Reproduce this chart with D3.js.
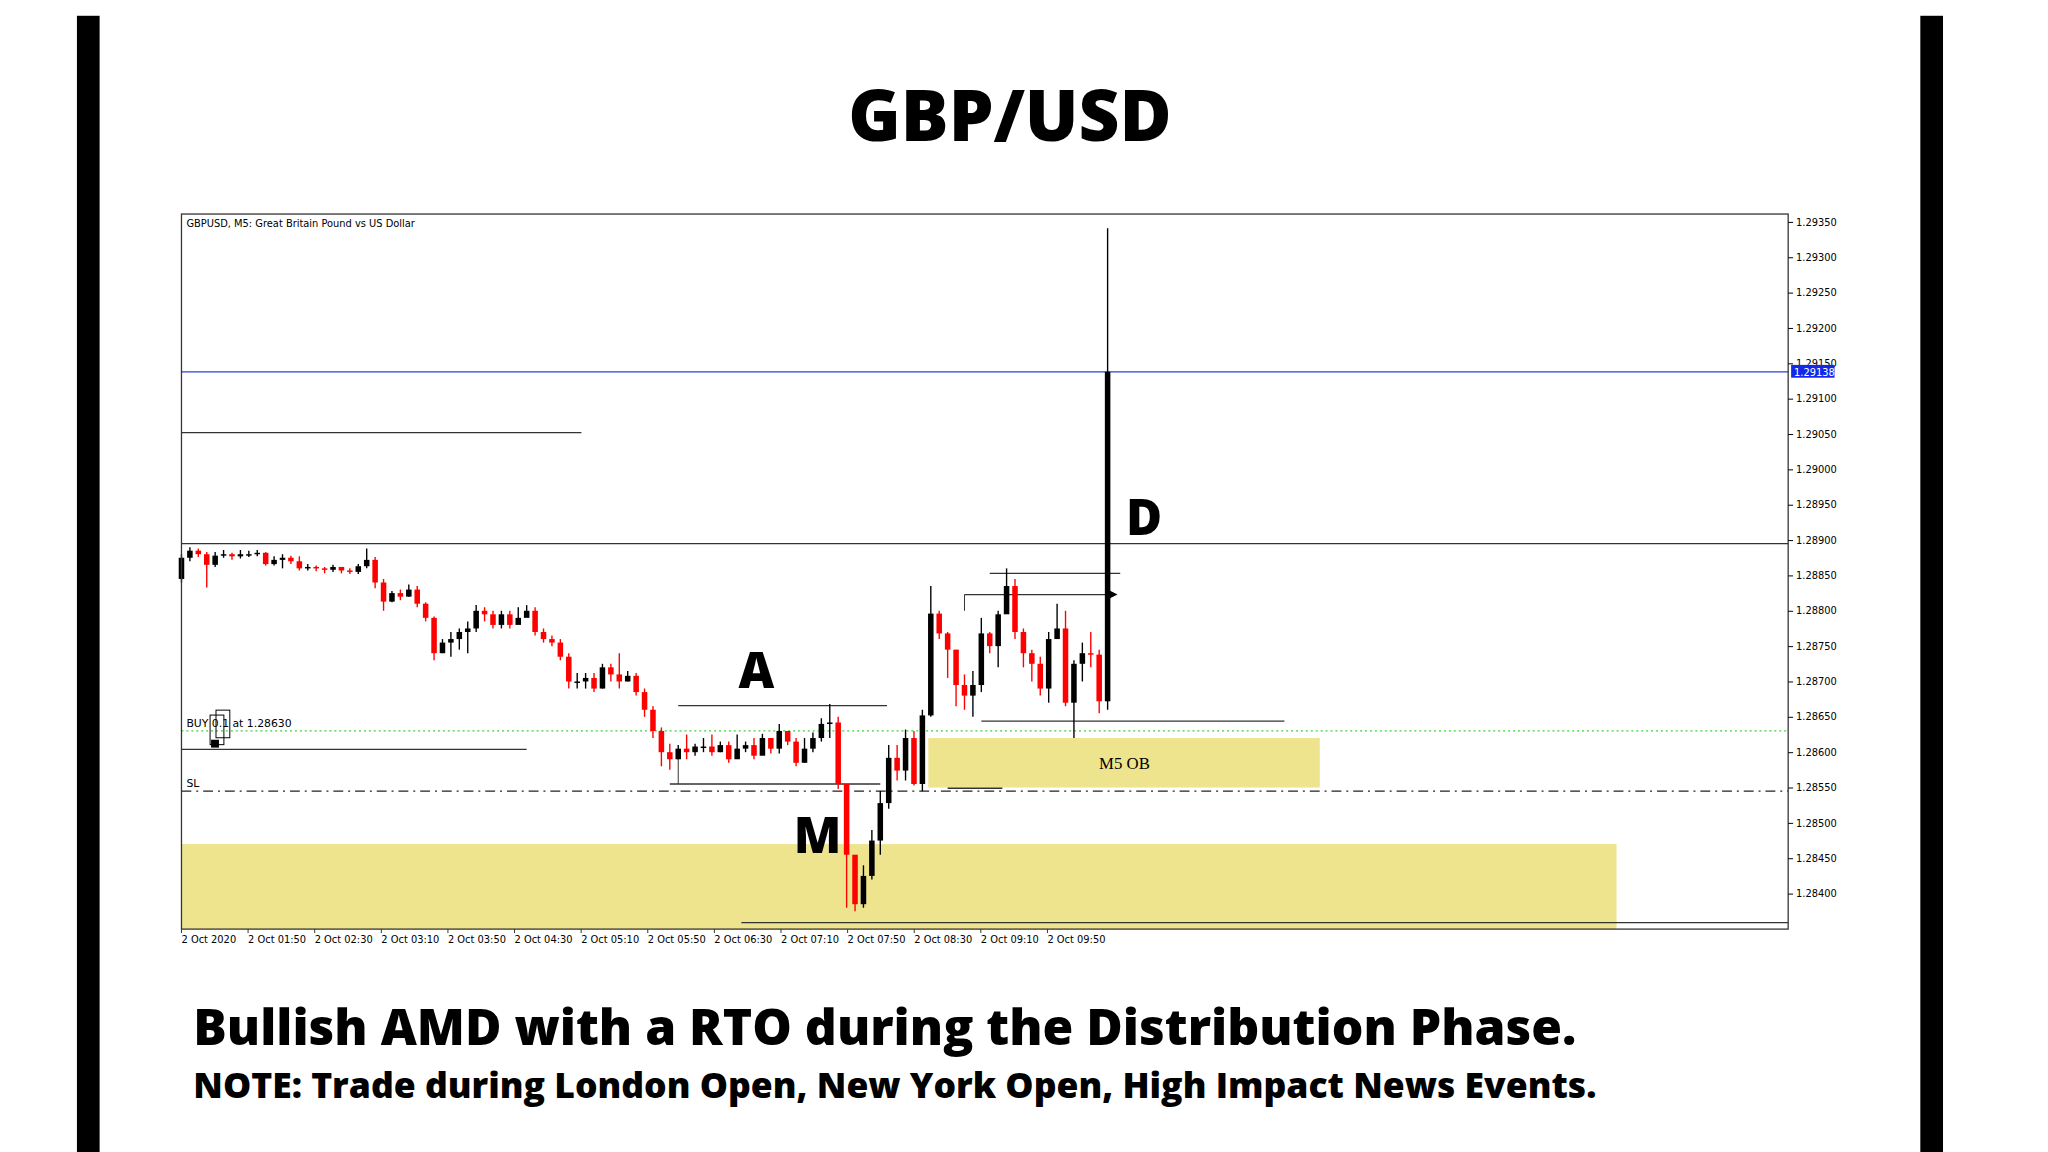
<!DOCTYPE html>
<meta charset="utf-8">
<style>
  body { margin: 0; background: #fff; }
  text { font-family: "Open Sans", sans-serif; }
  .small { font-family: "DejaVu Sans", sans-serif; font-size: 11px; fill: #000; }
</style>
<body>
<script src="https://cdn.jsdelivr.net/npm/d3@7"></script>
<script>
  var width = 2048, height = 1152;

  // prices are given in points above BASE (1.28000), i.e. 888 = 1.28888
  var BASE = 1.28;
  var firstOpen = 845;
  var closes = [875,885,880,865,878,880,877,880,880,882,866,872,875,870,860,862,860,858,862,857,855,863,872,840,813,825,820,830,810,790,
    740,755,760,770,775,800,795,780,795,780,790,800,770,760,755,735,700,700,705,690,720,710,700,708,685,660,630,600,590,605,
    600,608,608,600,610,590,605,610,595,620,605,630,615,585,605,620,640,642,555,455,385,425,475,528,592,574,620,555,652,796,
    768,745,695,680,695,768,750,795,835,770,740,725,690,760,775,670,725,740,738,672,1138];
  var highs = [880,890,888,883,883,886,882,886,885,886,883,877,880,878,877,866,864,862,865,861,860,866,888,876,845,828,830,837,835,812,
    792,760,770,775,785,808,805,800,800,800,805,808,805,775,765,760,740,712,712,712,725,725,740,715,712,690,665,635,612,610,
    625,612,620,625,615,615,625,615,620,626,620,640,630,620,620,628,648,668,650,555,420,440,490,545,610,610,632,630,660,835,
    800,770,745,710,715,790,770,800,860,845,775,745,735,770,810,800,730,755,770,745,1341];
  var lows = [840,870,876,833,862,875,872,874,876,877,864,864,860,866,857,857,856,853,855,853,852,852,860,832,800,812,815,820,805,785,
    730,740,735,745,740,770,785,775,775,775,782,795,765,755,750,730,690,690,690,685,690,700,690,700,680,650,620,580,575,590,
    590,595,600,595,600,585,600,600,590,600,598,598,610,580,585,600,615,620,548,380,375,380,420,455,520,560,560,553,545,650,
    760,705,665,660,650,685,740,720,820,760,720,700,680,670,765,665,620,700,720,655,660];

  var timeLabels = ["2 Oct 2020","2 Oct 01:50","2 Oct 02:30","2 Oct 03:10","2 Oct 03:50","2 Oct 04:30","2 Oct 05:10",
    "2 Oct 05:50","2 Oct 06:30","2 Oct 07:10","2 Oct 07:50","2 Oct 08:30","2 Oct 09:10","2 Oct 09:50"];
  var priceTicks = [1.2935,1.2930,1.2925,1.2920,1.2915,1.2910,1.2905,1.2900,1.2895,1.2890,1.2885,1.2880,1.2875,1.2870,
    1.2865,1.2860,1.2855,1.2850,1.2845,1.2840];

  var candles = closes.map(function(c, i) {
    return { o: i ? closes[i - 1] : firstOpen, c: c, h: highs[i], l: lows[i] };
  });

  var box = { left: 184, right: 1813, top: 217, bottom: 942 };

  var x = d3.scaleLinear().domain([0, candles.length - 1]).range([184, 1123]);
  var tx = d3.scaleLinear().domain([0, timeLabels.length - 1]).range([184, 1062]);
  var y = d3.scaleLinear().domain([1.2935, 1.2840]).range([225, 906]);
  var py = function(v) { return y(BASE + v / 100000); };

  var svg = d3.select("body").append("svg")
      .attr("width", width)
      .attr("height", height)
      .append("g")
      .attr("transform", "scale(0.9863)");

  // side bars
  svg.append("rect").attr("x", 78).attr("y", 16).attr("width", 23).attr("height", 1160).attr("fill", "#000");
  svg.append("rect").attr("x", 1947).attr("y", 16).attr("width", 23).attr("height", 1160).attr("fill", "#000");

  svg.append("text").attr("x", 1024).attr("y", 143).attr("text-anchor", "middle")
      .style("font-size", "72px").style("font-weight", 800).text("GBP/USD");

  // zones
  var yellow = "#efe48e";
  svg.append("rect").attr("x", box.left).attr("y", py(470)).attr("width", 1639 - box.left)
      .attr("height", box.bottom - py(470)).attr("fill", yellow);
  svg.append("rect").attr("x", x(88.7)).attr("y", py(620)).attr("width", x(135.2) - x(88.7))
      .attr("height", py(550) - py(620)).attr("fill", yellow);
  svg.append("text").attr("x", x(112)).attr("y", py(585) + 6).attr("text-anchor", "middle")
      .style("font-family", "Liberation Serif").style("font-size", "17px").text("M5 OB");

  function hline(p, x0, x1, color, dash, w) {
    svg.append("line").attr("x1", x0).attr("x2", x1).attr("y1", py(p)).attr("y2", py(p))
        .attr("stroke", color).attr("stroke-width", w || 1.3).attr("stroke-dasharray", dash || null);
  }
  hline(1138, box.left, box.right, "#2b3fd8");
  hline(1052, box.left, x(47.5), "#333");
  hline(895, box.left, box.right, "#333");
  hline(630, box.left, box.right, "#3ecf3e", "2,3");
  hline(545, box.left, box.right, "#222", "10,5,2,5");
  hline(604, box.left, x(41), "#333");
  hline(666, x(59), x(83.8), "#333");
  hline(555, x(58), x(83), "#333");
  hline(853, x(96), x(111.5), "#333");
  hline(823, x(93), x(110), "#333");
  hline(644, x(95), x(131), "#333");
  hline(359, x(66.5), box.right, "#333");
  hline(549, x(91), x(97.5), "#333");
  svg.append("line").attr("x1", x(93)).attr("x2", x(93)).attr("y1", py(823)).attr("y2", py(800)).attr("stroke", "#333");
  svg.append("path").attr("d", "M" + (x(110) - 2) + "," + (py(823) - 6) + "l12,6l-12,6z").attr("fill", "#000");
  svg.append("line").attr("x1", x(59)).attr("x2", x(59)).attr("y1", py(555)).attr("y2", py(600)).attr("stroke", "#333");

  // candles
  var g = svg.append("g");
  g.selectAll("line.wick").data(candles).enter().append("line")
      .attr("x1", function(d, i) { return x(i); }).attr("x2", function(d, i) { return x(i); })
      .attr("y1", function(d) { return py(d.h); }).attr("y2", function(d) { return py(d.l); })
      .attr("stroke", function(d) { return d.c >= d.o ? "#000" : "#f00"; }).attr("stroke-width", 1.4);
  g.selectAll("rect").data(candles).enter().append("rect")
      .attr("x", function(d, i) { return x(i) - 2.8; }).attr("width", 5.6)
      .attr("y", function(d) { return py(Math.max(d.o, d.c)); })
      .attr("height", function(d) { return Math.max(1.5, Math.abs(py(d.o) - py(d.c))); })
      .attr("fill", function(d) { return d.c >= d.o ? "#000" : "#f00"; });

  // buy marker
  svg.append("rect").attr("x", 213).attr("y", 725).attr("width", 14).attr("height", 30).attr("fill", "none").attr("stroke", "#000");
  svg.append("rect").attr("x", 219).attr("y", 720).attr("width", 14).attr("height", 28).attr("fill", "none").attr("stroke", "#000");
  svg.append("rect").attr("x", 214).attr("y", 750).attr("width", 8).attr("height", 8).attr("fill", "#000");
  svg.append("text").attr("class", "small").attr("x", 189).attr("y", py(630) - 4).text("BUY 0.1 at 1.28630");
  svg.append("text").attr("class", "small").attr("x", 189).attr("y", py(545) - 4).text("SL");
  svg.append("text").attr("class", "small").attr("x", 189).attr("y", 230).style("font-size", "10px")
      .text("GBPUSD, M5:  Great Britain Pound vs US Dollar");

  // frame
  svg.append("rect").attr("x", box.left).attr("y", box.top).attr("width", box.right - box.left)
      .attr("height", box.bottom - box.top).attr("fill", "none").attr("stroke", "#333").attr("stroke-width", 1.3);

  // price axis
  var ax = svg.append("g").attr("transform", "translate(" + box.right + ",0)");
  ax.call(d3.axisRight(y).tickValues(priceTicks).tickSize(5).tickFormat(d3.format(".5f")))
    .call(function(s) { s.select(".domain").remove(); })
    .selectAll("text").attr("class", "small").style("font-size", "10px");
  ax.append("rect").attr("x", 3).attr("y", y(1.29138) - 7).attr("width", 44).attr("height", 13).attr("fill", "#1328e8");
  ax.append("text").attr("class", "small").attr("x", 6).attr("y", y(1.29138) + 4).style("font-size", "10px")
      .style("fill", "#fff").text("1.29138");

  // time axis
  svg.selectAll("text.t").data(timeLabels).enter().append("text").attr("class", "small")
      .attr("x", function(d, i) { return tx(i); }).attr("y", box.bottom + 14).style("font-size", "10px").text(function(d) { return d; });
  svg.selectAll("line.t").data(timeLabels).enter().append("line")
      .attr("x1", function(d, i) { return tx(i); }).attr("x2", function(d, i) { return tx(i); })
      .attr("y1", box.bottom).attr("y2", box.bottom + 4).attr("stroke", "#333");

  // phase letters
  var big = function(t, px, p, dy) {
    svg.append("text").attr("x", px).attr("y", py(p) + dy).attr("text-anchor", "middle")
        .style("font-size", "50px").style("font-weight", 800).text(t);
  };
  big("A", 767, 666, -18);
  big("M", 829, 460, 2);
  big("D", 1160, 955, 34);

  svg.append("text").attr("x", 196).attr("y", 1060).style("font-size", "50.5px").style("font-weight", 800)
      .text("Bullish AMD with a RTO during the Distribution Phase.");
  svg.append("text").attr("x", 196).attr("y", 1113).style("font-size", "36px").style("font-weight", 800)
      .text("NOTE: Trade during London Open, New York Open, High Impact News Events.");
</script>
</body>
</html>
